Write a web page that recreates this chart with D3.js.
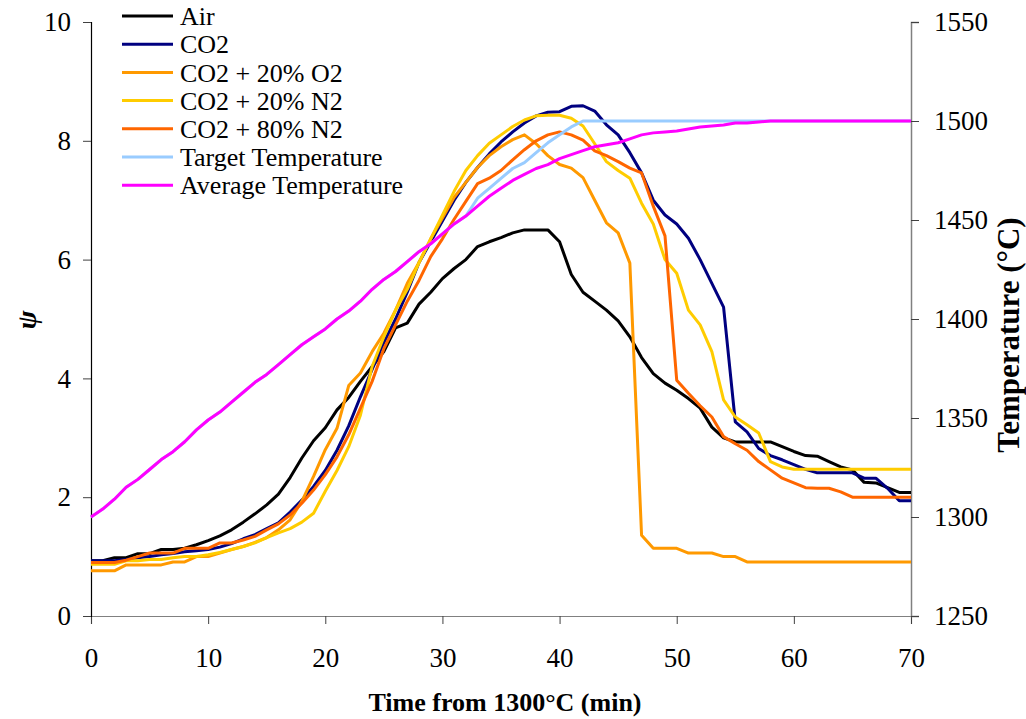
<!DOCTYPE html>
<html>
<head>
<meta charset="utf-8">
<script src="https://cdn.jsdelivr.net/npm/d3@7"></script>
<style>
  html, body { margin: 0; padding: 0; background: #fff; }
</style>
</head>
<body>
<svg id="chart" width="1026" height="719"></svg>
<script>
// ---- Data (time in minutes, 0..70 every minute) ----
const time = d3.range(0, 71);

const seriesNames = ["Air", "CO2", "CO2 + 20% O2", "CO2 + 20% N2", "CO2 + 80% N2",
                     "Target Temperature", "Average Temperature"];

const air = [0.93,0.93,0.98,0.98,1.05,1.05,1.12,1.12,1.14,1.2,
             1.27,1.35,1.45,1.58,1.72,1.87,2.05,2.33,2.66,2.95,
             3.17,3.47,3.68,3.95,4.2,4.45,4.85,4.93,5.25,5.45,
             5.68,5.85,6.0,6.22,6.3,6.37,6.45,6.5,6.5,6.5,
             6.3,5.75,5.45,5.3,5.15,4.97,4.7,4.35,4.08,3.92,
             3.8,3.66,3.5,3.18,3.0,2.93,2.93,2.93,2.93,2.85,
             2.77,2.7,2.69,2.6,2.51,2.46,2.25,2.24,2.16,2.08,2.08];

const co2 = [0.93,0.93,0.93,0.95,0.98,1.0,1.03,1.05,1.08,1.1,
             1.12,1.16,1.22,1.3,1.37,1.47,1.57,1.75,1.95,2.18,
             2.45,2.79,3.2,3.69,4.15,4.6,5.0,5.45,5.95,6.3,
             6.65,7.0,7.3,7.55,7.78,7.98,8.15,8.3,8.42,8.48,
             8.49,8.58,8.59,8.5,8.27,8.1,7.8,7.46,7.0,6.75,
             6.6,6.36,6.0,5.6,5.2,3.27,3.1,2.82,2.7,2.63,
             2.55,2.47,2.41,2.41,2.41,2.41,2.32,2.32,2.15,1.94,1.94];

const co2O2 = [0.76,0.76,0.76,0.86,0.86,0.86,0.86,0.91,0.91,1.0,
               1.0,1.06,1.12,1.17,1.24,1.32,1.45,1.62,1.93,2.35,
               2.8,3.16,3.88,4.09,4.45,4.76,5.15,5.6,5.95,6.35,
               6.7,7.05,7.3,7.55,7.75,7.9,8.02,8.1,7.95,7.75,
               7.6,7.54,7.38,7.0,6.62,6.45,5.94,1.36,1.14,1.14,
               1.14,1.06,1.06,1.06,1.0,1.0,0.91,0.91,0.91,0.91,
               0.91,0.91,0.91,0.91,0.91,0.91,0.91,0.91,0.91,0.91,0.91];

const co2N2_20 = [0.87,0.87,0.87,0.93,0.93,0.95,0.95,0.98,1.0,1.0,
                  1.03,1.07,1.12,1.17,1.23,1.32,1.4,1.47,1.58,1.73,
                  2.1,2.45,2.85,3.38,4.2,4.7,5.15,5.5,5.95,6.35,
                  6.75,7.15,7.5,7.75,7.96,8.1,8.24,8.35,8.42,8.43,
                  8.43,8.38,8.25,7.95,7.65,7.5,7.37,6.95,6.6,6.0,
                  5.77,5.15,4.9,4.45,3.64,3.35,3.22,3.08,2.6,2.51,
                  2.47,2.47,2.47,2.47,2.47,2.47,2.47,2.47,2.47,2.47,2.47];

const co2N2_80 = [0.9,0.9,0.9,0.94,1.0,1.06,1.06,1.06,1.14,1.14,
                  1.14,1.23,1.23,1.28,1.34,1.45,1.55,1.7,1.9,2.12,
                  2.38,2.68,3.05,3.5,3.95,4.5,4.9,5.3,5.65,6.05,
                  6.35,6.68,6.98,7.28,7.37,7.5,7.68,7.85,8.0,8.1,
                  8.15,8.1,8.01,7.83,7.75,7.65,7.54,7.46,6.9,6.4,
                  3.97,3.75,3.54,3.35,3.02,2.9,2.79,2.6,2.46,2.32,
                  2.24,2.16,2.15,2.15,2.09,2.0,2.0,2.0,2.0,2.0,2.0];

const targetTemp = [1300,1304,1309,1315,1319,1324,1329,1333,1338,1344,
                    1349,1353,1358,1363,1368,1372,1377,1382,1387,1391,
                    1395,1400,1404,1409,1415,1420,1424,1429,1434,1438,
                    1443,1448,1452,1461,1466,1471,1476,1479,1484,1489,
                    1493,1497,1500,1500,1500,1500,1500,1500,1500,1500,
                    1500,1500,1500,1500,1500,1500,1500,1500,1500,1500,
                    1500,1500,1500,1500,1500,1500,1500,1500,1500,1500,1500];

const avgTemp = [1300,1304,1309,1315,1319,1324,1329,1333,1338,1344,
                 1349,1353,1358,1363,1368,1372,1377,1382,1387,1391,
                 1395,1400,1404,1409,1415,1420,1424,1429,1434,1438,
                 1443,1448,1452,1457,1462,1466,1470,1473,1476,1478,
                 1481,1483,1485,1487,1488,1489,1491,1493,1494,1494.5,
                 1495,1496,1497,1497.5,1498,1499,1499,1499.5,1500,1500,
                 1500,1500,1500,1500,1500,1500,1500,1500,1500,1500,1500];

const xTicks = [0,10,20,30,40,50,60,70];
const yLeftTicks = [0,2,4,6,8,10];
const yRightTicks = [1250,1300,1350,1400,1450,1500,1550];

const colors = ["#000000","#000080","#FF9900","#FFCC00","#FF6600","#99CCFF","#FF00FF"];

// ---- Layout ----
const svg = d3.select("#chart");
const mLeft = 91, mRight = 911, mTop = 22, mBottom = 616;
const SERIF = "'Liberation Serif', 'Times New Roman', Times, 'DejaVu Serif', serif";

const x = d3.scaleLinear().domain([0,70]).range([mLeft,mRight]);
const yL = d3.scaleLinear().domain([0,10]).range([mBottom,mTop]);
const yR = d3.scaleLinear().domain([1250,1550]).range([mBottom,mTop]);

const FS = 27;

// Axes
const gx = svg.append("g").attr("transform",`translate(0,${mBottom})`)
  .call(d3.axisBottom(x).tickValues(xTicks).tickSize(8).tickPadding(24).tickFormat(d3.format("d")));
gx.select(".domain").attr("stroke","#808080").attr("stroke-width",1.2);
gx.selectAll(".tick line").attr("stroke","#404040");
gx.selectAll("text").style("font-size",FS+"px");

const gl = svg.append("g").attr("transform",`translate(${mLeft},0)`)
  .call(d3.axisLeft(yL).tickValues(yLeftTicks).tickSize(8).tickPadding(12).tickFormat(d3.format("d")));
gl.select(".domain").attr("stroke","#000").attr("stroke-width",1.2);
gl.selectAll(".tick line").attr("stroke","#404040");
gl.selectAll("text").style("font-size",FS+"px");

const gr = svg.append("g").attr("transform",`translate(${mRight},0)`)
  .call(d3.axisRight(yR).tickValues(yRightTicks).tickSize(8).tickPadding(15).tickFormat(d3.format("d")));
gr.select(".domain").attr("stroke","#808080").attr("stroke-width",1.5);
gr.selectAll(".tick line").attr("stroke","#404040");
gr.selectAll("text").style("font-size",FS+"px");

// Lines
const psiSeries = [air, co2, co2O2, co2N2_20, co2N2_80];
const tempSeries = [targetTemp, avgTemp];

const lineL = d3.line().x((d,i)=>x(time[i])).y(d=>yL(d));
const lineR = d3.line().x((d,i)=>x(time[i])).y(d=>yR(d));

psiSeries.forEach((s,k)=>{
  svg.append("path").attr("d",lineL(s)).attr("fill","none")
    .attr("stroke",colors[k]).attr("stroke-width",3).attr("stroke-linejoin","round");
});
tempSeries.forEach((s,k)=>{
  svg.append("path").attr("d",lineR(s)).attr("fill","none")
    .attr("stroke",colors[5+k]).attr("stroke-width",3).attr("stroke-linejoin","round");
});

// Legend
const lg = svg.append("g");
seriesNames.forEach((n,i)=>{
  const yy = 16 + i*28.2;
  lg.append("line").attr("x1",122).attr("x2",173).attr("y1",yy).attr("y2",yy)
    .attr("stroke",colors[i]).attr("stroke-width",3);
  lg.append("text").attr("x",180).attr("y",yy).attr("dy","0.35em")
    .style("font-size","26px").text(n);
});

// Axis titles
svg.append("text").attr("x",505).attr("y",711).attr("text-anchor","middle")
  .style("font-size","26px").style("font-weight","bold").text("Time from 1300°C (min)");

svg.append("text").attr("transform","translate(36,320) rotate(-90)").attr("text-anchor","middle")
  .style("font-size","28px").style("font-weight","bold").style("font-style","italic").text("ψ");

svg.append("text").attr("transform","translate(1019,335) rotate(-90)").attr("text-anchor","middle")
  .style("font-size","31px").style("font-weight","bold").text("Temperature (°C)");

svg.selectAll("text").style("font-family", SERIF).attr("fill","#000");
</script>
</body>
</html>
